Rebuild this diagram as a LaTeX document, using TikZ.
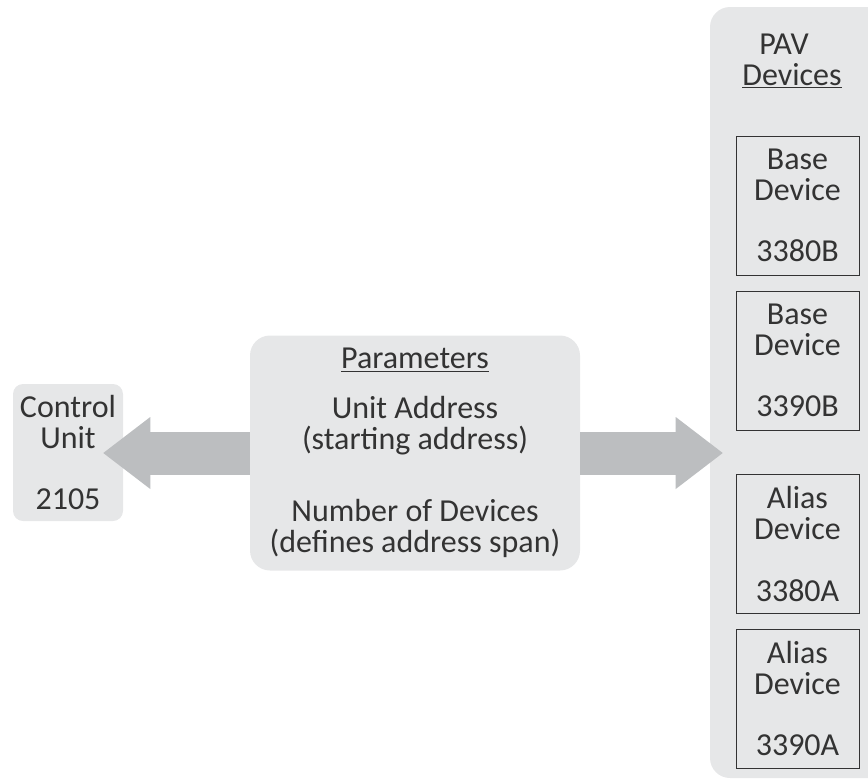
\documentclass[tikz,border=0pt]{standalone}
\usepackage{fontspec}
\setmainfont{Carlito}
\usetikzlibrary{arrows.meta}
\definecolor{panelgray}{HTML}{E6E7E8}
\definecolor{arrowgray}{HTML}{BCBEC0}
\definecolor{inkgray}{HTML}{333333}
\begin{document}
\begin{tikzpicture}[x=0.75pt,y=-0.75pt,
    txt/.style={font=\fontsize{24}{23.25}\selectfont,text=inkgray,align=center},
    panel/.style={txt,fill=panelgray,inner sep=0pt},
    dev/.style={txt,draw=inkgray,line width=0.75pt,minimum width=92.25pt,minimum height=104.25pt,inner sep=0pt},
    bigarrow/.style={arrowgray,line width=32.25pt,-{Triangle[length=35.25pt,width=54pt,line width=0pt]}}]
    \useasboundingbox (0,0) rectangle (868,779);
    % grey panels
    \node[panel,rounded corners=15pt,minimum width=135pt,minimum height=578.25pt] (pav) at (800,392.5) {};
    \node[txt] (pavtitle) at (792,61) {PAV\hspace*{0.5em}\\\underline{Devices}};
    \node[panel,rounded corners=7.5pt,minimum width=82.5pt,minimum height=102.75pt] (cu) at (68,452.5) {Control\\Unit\\[23pt]2105};
    \node[panel,rounded corners=15pt,minimum width=247.5pt,minimum height=176.25pt] (params) at (415,453)
        {\underline{Parameters}\\[14pt]Unit Address\\(starting address)\\[31pt]Number of Devices\\(defines address span)};
    % device boxes
    \foreach \n/\y/\kind/\num in {1/205.5/Base/3380B,2/360.5/Base/3390B,3/544/Alias/3380A,4/698.5/Alias/3390A}{
        \node[dev] (dev\n) at (797.5,\y) {\kind\\Device\\[23pt]\num};
    }
    % block arrows
    \draw[bigarrow,shorten >=-15pt] (params.west) -- (params.west -| cu.east);
    \draw[bigarrow,shorten >=-9.75pt] (params.east) -- (params.east -| pav.west);
\end{tikzpicture}
\end{document}
